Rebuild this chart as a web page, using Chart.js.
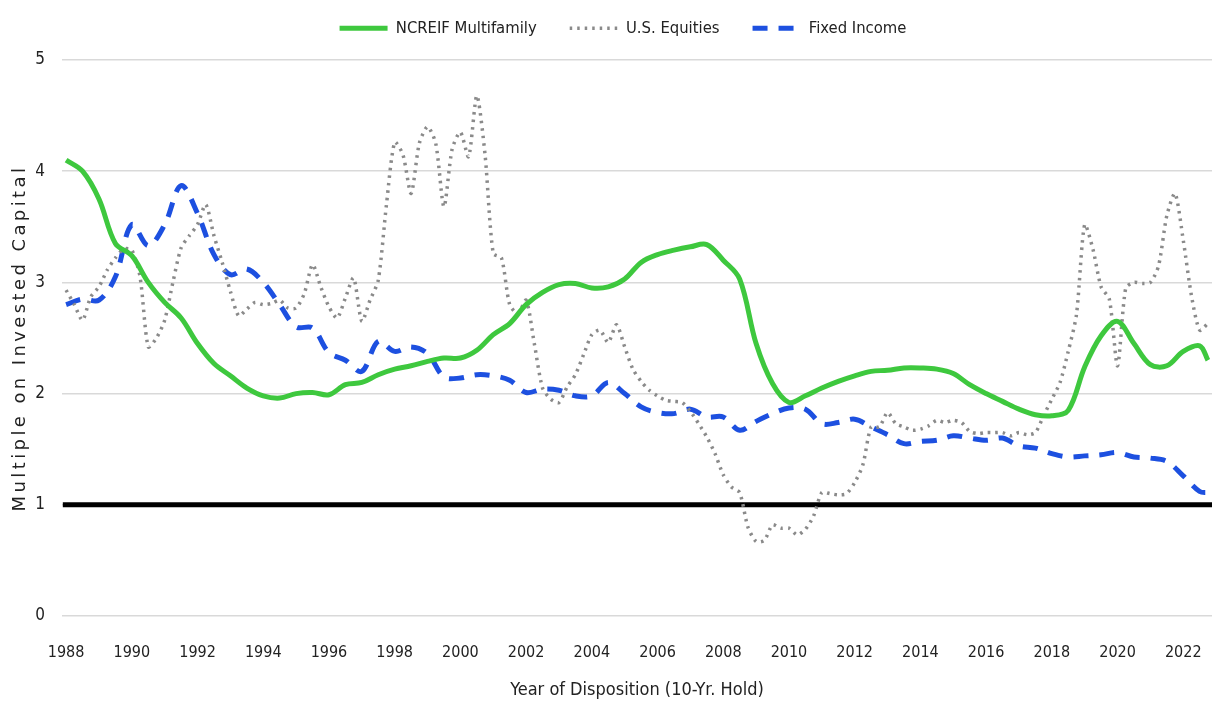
<!DOCTYPE html>
<html>
<head>
<meta charset="utf-8">
<script src="https://cdn.jsdelivr.net/npm/chart.js@4/dist/chart.umd.min.js"></script>
<style>
  html, body { margin: 0; padding: 0; background: #fff; }
  #wrap { width: 1212px; height: 707px; }
</style>
</head>
<body>
<div id="wrap"><canvas id="moicChart" width="1212" height="707"></canvas></div>
<script>
// half-year and quarterly disposition years (categories)
const halfYears = [];
for (let y = 1988; y <= 2022.5; y += 0.5) halfYears.push(y);
halfYears.push(2022.75);
const quarterYears = [];
for (let q = 0; q < 140; q++) quarterYears.push(1988 + q / 4);

const yTicks = [0, 1, 2, 3, 4, 5];
const xTickYears = [1988, 1990, 1992, 1994, 1996, 1998, 2000, 2002, 2004, 2006, 2008, 2010, 2012, 2014, 2016, 2018, 2020, 2022];

const multifamily = [
  4.10, 4.00, 3.75, 3.35, 3.24, 3.00, 2.82, 2.68, 2.45, 2.27,
  2.16, 2.05, 1.98, 1.96, 2.00, 2.01, 1.99, 2.08, 2.10, 2.17,
  2.22, 2.25, 2.29, 2.32, 2.32, 2.39, 2.53, 2.63, 2.80, 2.91,
  2.98, 2.99, 2.95, 2.96, 3.03, 3.18, 3.25, 3.29, 3.32, 3.34,
  3.20, 3.03, 2.45, 2.09, 1.92, 1.98, 2.05, 2.11, 2.16, 2.20,
  2.21, 2.23, 2.23, 2.22, 2.18, 2.08, 2.00, 1.93, 1.86, 1.81,
  1.80, 1.85, 2.24, 2.52, 2.65, 2.45, 2.26, 2.25, 2.38, 2.43,
  2.30
];

const fixedIncome = [
  2.80, 2.85, 2.84, 3.05, 3.52, 3.33, 3.52, 3.87, 3.62, 3.25,
  3.07, 3.12, 3.00, 2.80, 2.60, 2.59, 2.37, 2.30, 2.20, 2.47,
  2.38, 2.42, 2.36, 2.15, 2.14, 2.17, 2.16, 2.12, 2.01, 2.04,
  2.03, 1.98, 1.98, 2.10, 2.00, 1.88, 1.83, 1.82, 1.86, 1.79,
  1.79, 1.67, 1.75, 1.82, 1.87, 1.86, 1.73, 1.74, 1.77, 1.70,
  1.63, 1.55, 1.57, 1.58, 1.62, 1.60, 1.58, 1.60, 1.53, 1.51,
  1.46, 1.43, 1.44, 1.45, 1.47, 1.43, 1.42, 1.39, 1.26, 1.12,
  1.11
];

const equities = [
  2.93, 2.80, 2.66, 2.87,  2.96, 3.11, 3.22, 3.30,  3.29, 3.05, 2.42, 2.50,
  2.66, 3.00, 3.31, 3.42,  3.52, 3.70, 3.42, 3.18,  2.92, 2.70, 2.76, 2.82,
  2.80, 2.81, 2.84, 2.77,  2.77, 2.90, 3.16, 2.96,  2.78, 2.68, 2.86, 3.04,
  2.65, 2.84, 3.02, 3.70,  4.26, 4.15, 3.80, 4.25,  4.40, 4.25, 3.68, 4.20,
  4.35, 4.13, 4.68, 4.15,  3.26, 3.22, 2.80, 2.72,  2.84, 2.45, 2.05, 1.95,
  1.92, 2.06, 2.17, 2.35,  2.53, 2.57, 2.46, 2.62,  2.42, 2.22, 2.11, 2.03,
  1.98, 1.94, 1.93, 1.92,  1.84, 1.73, 1.61, 1.46,  1.27, 1.16, 1.11, 0.80,
  0.67, 0.68, 0.82, 0.79,  0.79, 0.73, 0.78, 0.90,  1.11, 1.10, 1.09, 1.10,
  1.20, 1.36, 1.70, 1.70,  1.83, 1.73, 1.70, 1.67,  1.68, 1.71, 1.76, 1.74,
  1.76, 1.74, 1.66, 1.64,  1.65, 1.65, 1.65, 1.62,  1.65, 1.63, 1.65, 1.80,
  1.95, 2.10, 2.38, 2.71,  3.52, 3.30, 2.96, 2.85,  2.25, 2.95, 3.00, 2.99,
  3.00, 3.15, 3.60, 3.80,  3.38, 2.88, 2.57, 2.63
];

// break-even line (1.0x)
const breakEvenYears = [1987.9, 2022.875];
const breakEven = [1, 1];

const X_MIN = 1987.875;
const X_MAX = 2022.875;

const narrowFont = "'Liberation Sans Narrow', 'DejaVu Sans Condensed', 'Arial Narrow', sans-serif";

function toPoints(xs, ys) {
  return ys.map((v, i) => ({ x: xs[i], y: v }));
}

// fixed legend band height so the plot starts where the original does
const legendGap = {
  id: 'legendGap',
  beforeInit(chart) {
    const origFit = chart.legend.fit;
    chart.legend.fit = function () {
      origFit.bind(chart.legend)();
      this.height = 73;
    };
  },
  afterLayout(chart) {
    // original legend sits a bit right of the page centre
    chart.legend.left += 17;
    chart.legend.right += 17;
  }
};

// wider letter spacing for the y axis title, like the original
const spacedTitle = {
  id: 'spacedTitle',
  afterLayout(chart) {
    const ys = chart.scales.y;
    if (!ys || ys._spaced) return;
    const orig = ys.drawTitle;
    ys.drawTitle = function () {
      const c = this.ctx;
      c.save();
      c.letterSpacing = '3.4px';
      orig.apply(this, arguments);
      c.restore();
    };
    ys._spaced = true;
  }
};

const ctx = document.getElementById('moicChart').getContext('2d');

const chart = new Chart(ctx, {
  type: 'line',
  data: {
    datasets: [
      {
        label: 'NCREIF Multifamily',
        data: toPoints(halfYears, multifamily),
        borderColor: '#3ec83e',
        backgroundColor: '#3ec83e',
        borderWidth: 5,
        pointRadius: 0,
        pointStyle: 'line',
        tension: 0.35
      },
      {
        label: 'U.S. Equities',
        data: toPoints(quarterYears, equities),
        borderColor: '#8a8a8a',
        backgroundColor: '#8a8a8a',
        borderWidth: 3.5,
        borderDash: [2.5, 5],
        pointRadius: 0,
        pointStyle: 'line',
        tension: 0.25
      },
      {
        label: 'Fixed Income',
        data: toPoints(halfYears, fixedIncome),
        borderColor: '#1d50e0',
        backgroundColor: '#1d50e0',
        borderWidth: 5,
        borderDash: [15, 11],
        pointRadius: 0,
        pointStyle: 'line',
        tension: 0.35
      },
      {
        label: 'breakeven',
        data: toPoints(breakEvenYears, breakEven),
        borderColor: '#000000',
        borderWidth: 5,
        pointRadius: 0,
        tension: 0
      }
    ]
  },
  options: {
    responsive: false,
    animation: false,
    layout: { padding: { top: -13, right: 0, left: 0, bottom: 0 } },
    plugins: {
      legend: {
        position: 'top',
        labels: {
          usePointStyle: true,
          pointStyleWidth: 48,
          boxHeight: 16,
          padding: 33,
          color: '#222',
          font: { family: narrowFont, size: 16.5 },
          generateLabels: (ch) => {
            const items = Chart.defaults.plugins.legend.labels.generateLabels(ch);
            return items
              .filter(it => it.datasetIndex !== 3)
              .map(it => {
                const ds = ch.data.datasets[it.datasetIndex];
                it.lineDash = ds.borderDash || [];
                it.lineWidth = ds.borderWidth;
                it.strokeStyle = ds.borderColor;
                it.pointStyle = 'line';
                return it;
              });
          }
        }
      },
      tooltip: { enabled: false }
    },
    scales: {
      x: {
        type: 'linear',
        min: X_MIN,
        max: X_MAX,
        afterFit: (s) => { s.height = 91; s.paddingLeft = 0; s.paddingRight = 0; },
        afterBuildTicks: (s) => { s.ticks = xTickYears.map(v => ({ value: v })); },
        grid: { display: false, drawTicks: false },
        border: { display: false },
        ticks: {
          padding: 27,
          autoSkip: false,
          maxRotation: 0,
          color: '#222',
          font: { family: narrowFont, size: 16 },
          callback: (v) => String(v)
        },
        title: {
          display: true,
          text: 'Year of Disposition (10-Yr. Hold)',
          color: '#222',
          padding: { top: 0, bottom: 6 },
          font: { family: narrowFont, size: 18 }
        }
      },
      y: {
        min: 0,
        max: 5,
        afterFit: (s) => { s.width = 62; },
        afterBuildTicks: (s) => { s.ticks = yTicks.map(v => ({ value: v })); },
        grid: { color: '#d9d9d9', lineWidth: 1.5, drawTicks: false },
        border: { display: false },
        ticks: {
          padding: 17,
          color: '#222',
          font: { family: narrowFont, size: 17 }
        },
        title: {
          display: true,
          text: 'Multiple on Invested Capital',
          color: '#222',
          padding: { top: 10, bottom: 0 },
          font: { family: "'DejaVu Sans', sans-serif", size: 18 }
        }
      }
    }
  },
  plugins: [legendGap, spacedTitle]
});
</script>
</body>
</html>
